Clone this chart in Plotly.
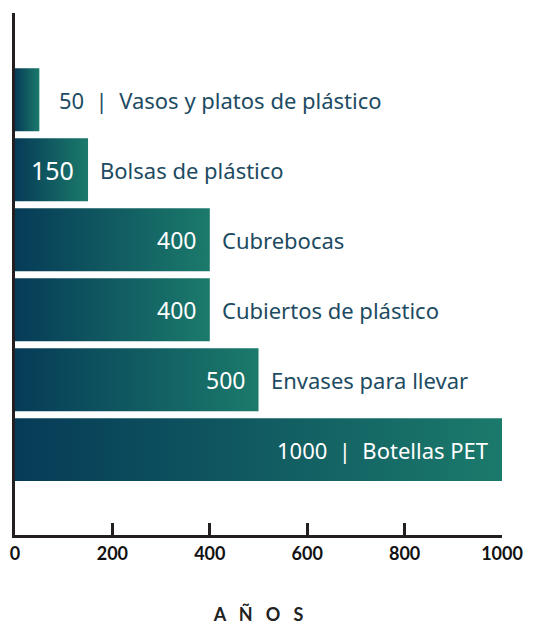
import plotly.graph_objects as go

categories = ["Vasos y platos de plástico", "Bolsas de plástico", "Cubrebocas",
              "Cubiertos de plástico", "Envases para llevar", "Botellas PET"]
years = [50, 150, 400, 400, 500, 1000]
x_ticks = [0, 200, 400, 600, 800, 1000]
x_tick_labels = ["0", "200", "400", "600", "800", "1000"]
axis_title = "AÑOS"

DARK = "#063b57"
TEAL = "#1b7a6b"
TEXT = "#1d4b62"
AX = "#231f20"
FONT = "Noto Sans"
HALF = 0.45
NB = "\u00a0"

fig = go.Figure()
for i, (cat, v) in enumerate(zip(categories, years)):
    fig.add_trace(go.Scatter(
        x=[0, v, v, 0, 0],
        y=[i - HALF, i - HALF, i + HALF, i + HALF, i - HALF],
        mode="lines", fill="toself", line=dict(width=0),
        fillgradient=dict(type="horizontal", start=0, stop=v,
                          colorscale=[[0, DARK], [1, TEAL]]),
        hoverinfo="skip", showlegend=False,
    ))

vmax = max(years)
sep = NB + NB + "|" + NB + NB
for i, (cat, v) in enumerate(zip(categories, years)):
    if v == vmax:
        fig.add_annotation(x=v, y=i, text=f"{v}{sep}{cat}", showarrow=False,
                           xanchor="right", xshift=-12,
                           font=dict(family=FONT, size=22, color="white"))
    elif v >= 100:
        fig.add_annotation(x=v, y=i, text=str(v), showarrow=False,
                           xanchor="right", xshift=-12,
                           font=dict(family=FONT, size=25 if v < 200 else 23, color="white"))
        fig.add_annotation(x=v, y=i, text=cat, showarrow=False,
                           xanchor="left", xshift=10,
                           font=dict(family=FONT, size=22, color=TEXT))
    else:
        fig.add_annotation(x=v, y=i, text=f"{v}{sep}{cat}", showarrow=False,
                           xanchor="left", xshift=18,
                           font=dict(family=FONT, size=22, color=TEXT))

fig.update_layout(
    width=535, height=625,
    margin=dict(l=15, r=33, t=13, b=90),
    paper_bgcolor="white", plot_bgcolor="white",
    xaxis=dict(range=[0, 1000], tickvals=x_ticks, ticktext=x_tick_labels, automargin=False,
               showgrid=False, zeroline=False, showline=True, linewidth=3, linecolor=AX,
               ticks="inside", ticklen=12, tickwidth=3, tickcolor=AX,
               tickfont=dict(family="Lato", size=18, color="#111111", weight="bold"),
               title=dict(text=(NB * 3).join(axis_title), standoff=47,
                          font=dict(family="Lato", size=18, color="#222222", weight="bold"))),
    yaxis=dict(range=[len(categories) - 1 + 1.22, -1.24], showgrid=False, zeroline=False,
               automargin=False,
               showline=True, linewidth=3, linecolor=AX, showticklabels=False, ticks=""),
)

fig.write_html("out.html", config={"displayModeBar": False},
               post_script="document.body.style.margin='0';")
